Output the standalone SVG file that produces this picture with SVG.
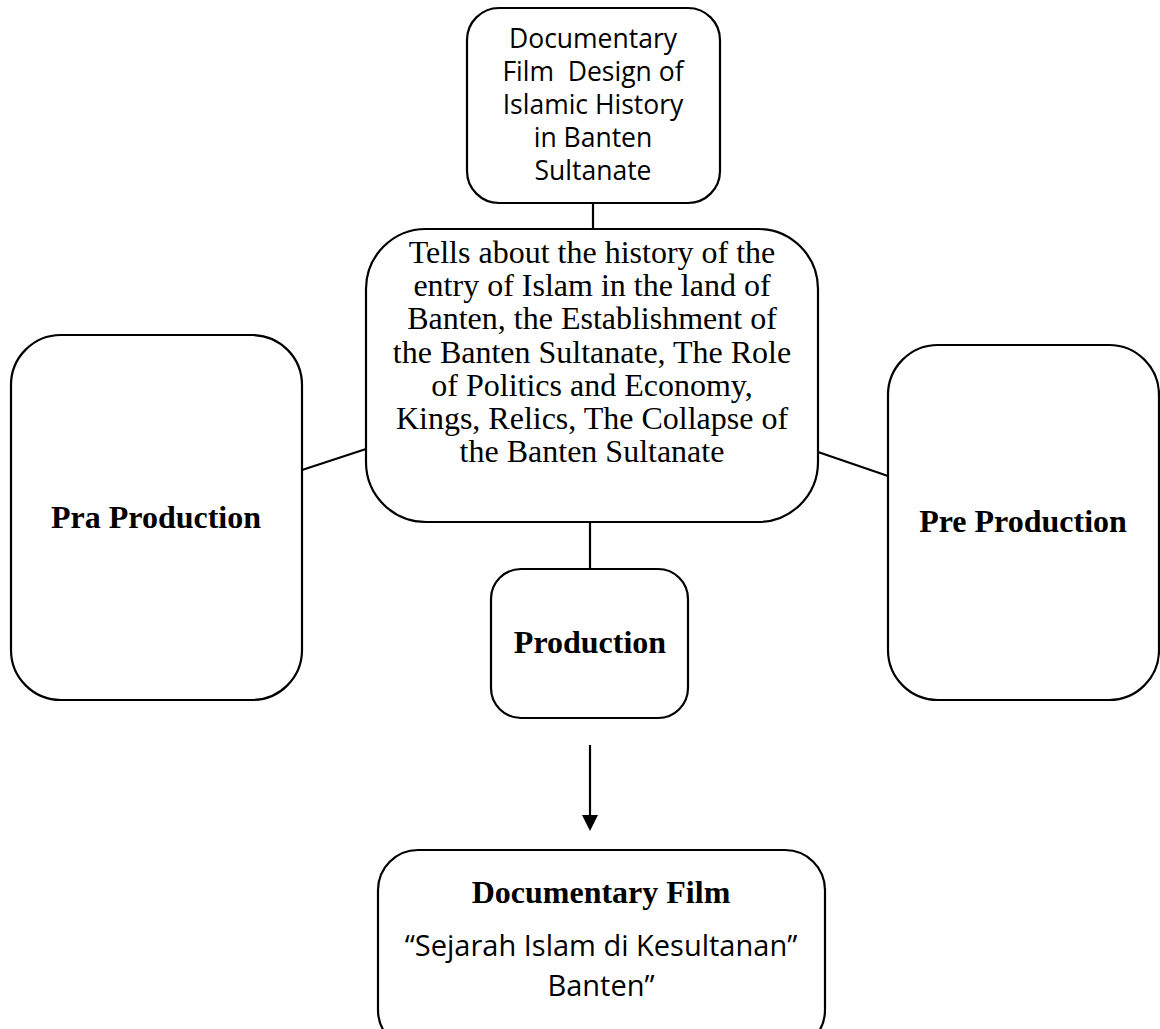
<svg xmlns="http://www.w3.org/2000/svg" width="1160" height="1029" viewBox="0 0 1160 1029">
<defs>
<style>
.box{fill:#fff;stroke:#000;stroke-width:2.2}
.ln{fill:none;stroke:#000;stroke-width:2.2}
.sans{font-family:"Open Sans","Noto Sans","Liberation Sans",sans-serif;font-size:26.5px;fill:#000;text-anchor:middle}
.sans2{font-family:"Open Sans","Noto Sans","Liberation Sans",sans-serif;font-size:29px;fill:#000;text-anchor:middle}
.serif{font-family:"Liberation Serif","Times New Roman",serif;font-size:32px;fill:#000;text-anchor:middle}
.bold{font-family:"Liberation Serif","Times New Roman",serif;font-size:32px;font-weight:bold;fill:#000;text-anchor:middle}
</style>
</defs>
<rect width="1160" height="1029" fill="#fff"/>
<g id="connectors">
<line class="ln" x1="593" y1="203" x2="593" y2="229"/>
<line class="ln" x1="302" y1="470" x2="366" y2="449"/>
<line class="ln" x1="818" y1="452" x2="888" y2="476"/>
<line class="ln" x1="590" y1="522" x2="590" y2="569"/>
<line class="ln" x1="590" y1="745" x2="590" y2="816"/>
<path d="M582,815 L598,815 L590,831 z" fill="#000"/>
</g>
<g id="node-title">
<rect class="box" x="467" y="8" width="253" height="195" rx="32"/>
<text class="sans"><tspan x="593" y="48">Documentary</tspan><tspan x="593" y="81">Film&#160; Design of</tspan><tspan x="593" y="114">Islamic History</tspan><tspan x="593" y="147">in Banten</tspan><tspan x="593" y="180">Sultanate</tspan></text>
</g>
<g id="node-desc">
<rect class="box" x="366" y="229" width="452" height="293" rx="60"/>
<text class="serif"><tspan x="592" y="263">Tells about the history of the</tspan><tspan x="592" y="296">entry of Islam in the land of</tspan><tspan x="592" y="329">Banten, the Establishment of</tspan><tspan x="592" y="363">the Banten Sultanate, The Role</tspan><tspan x="592" y="396">of Politics and Economy,</tspan><tspan x="592" y="429">Kings, Relics, The Collapse of</tspan><tspan x="592" y="462">the Banten Sultanate</tspan></text>
</g>
<g id="node-pra">
<rect class="box" x="11" y="335" width="291" height="365" rx="50"/>
<text class="bold" x="156" y="528">Pra Production</text>
</g>
<g id="node-pre">
<rect class="box" x="888" y="345" width="271" height="355" rx="50"/>
<text class="bold" x="1023" y="532">Pre Production</text>
</g>
<g id="node-production">
<rect class="box" x="491" y="569" width="197" height="149" rx="30"/>
<text class="bold" x="590" y="653">Production</text>
</g>
<g id="node-film">
<rect class="box" x="378" y="850" width="447" height="200" rx="40"/>
<text class="bold" x="601" y="903">Documentary Film</text>
<text class="sans2"><tspan x="601" y="956">“Sejarah Islam di Kesultanan”</tspan><tspan x="601" y="996">Banten”</tspan></text>
</g>
</svg>
